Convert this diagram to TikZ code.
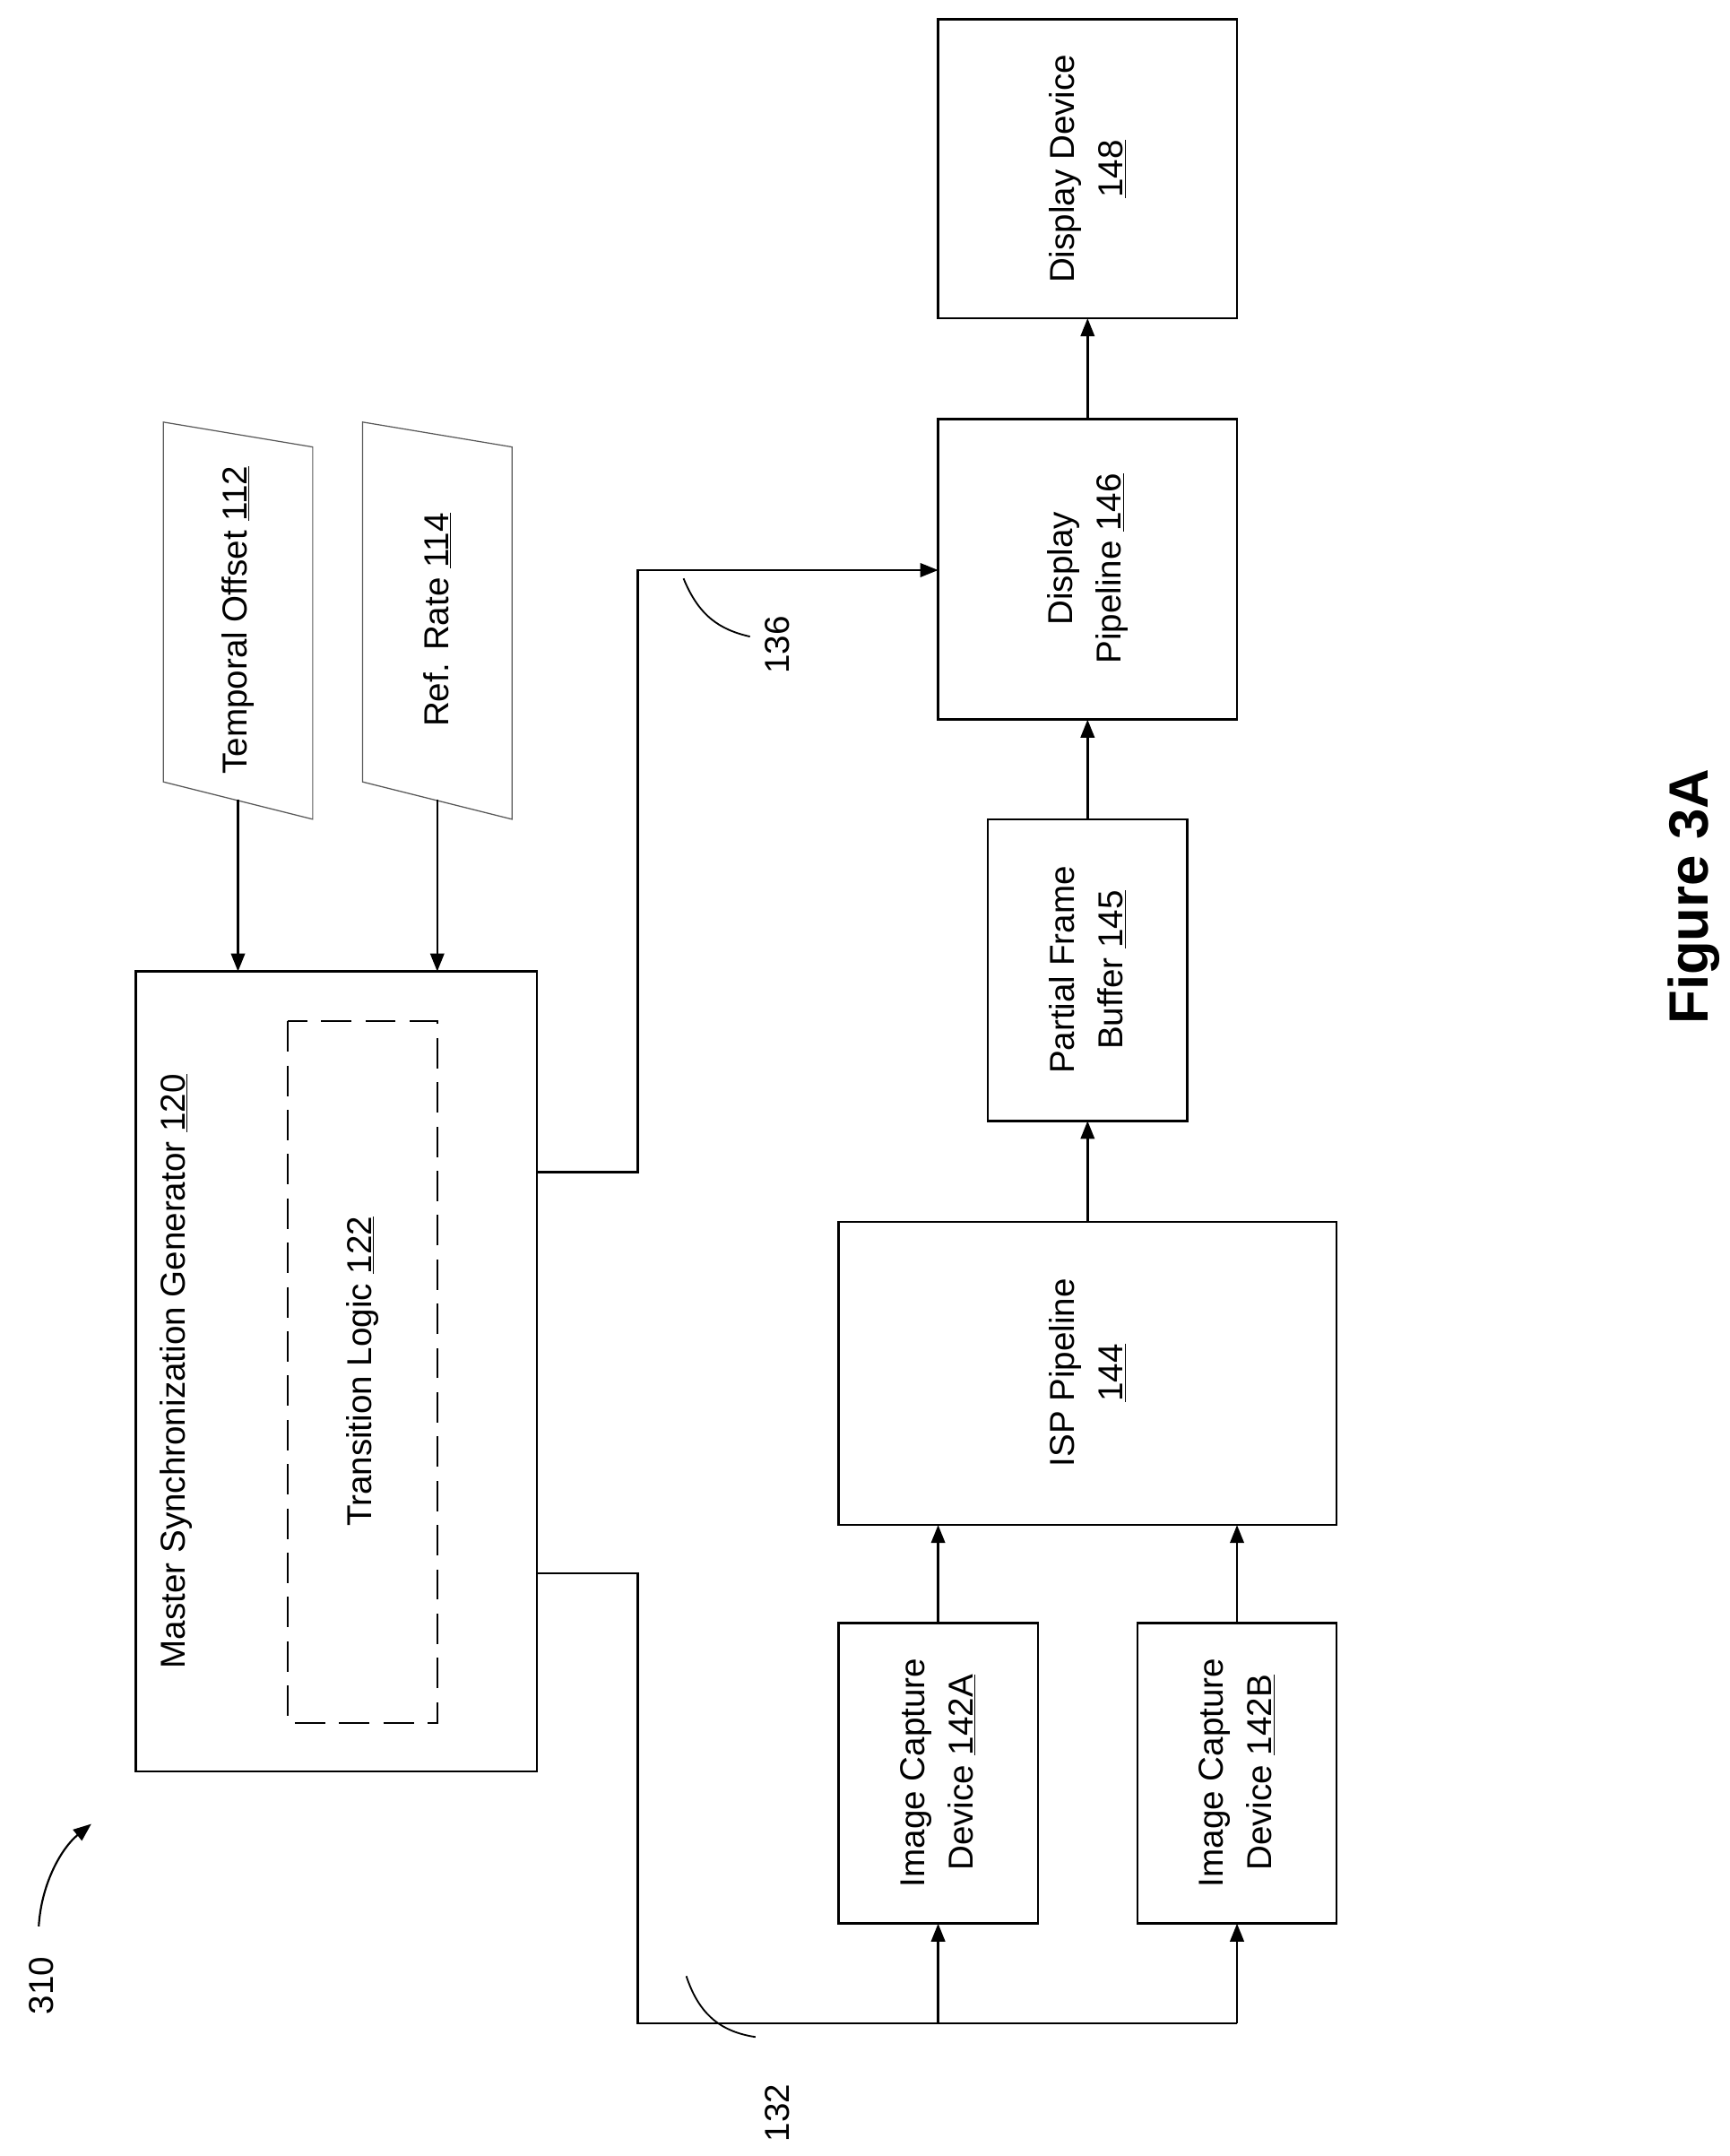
\documentclass[tikz,border=0pt]{standalone}
\usepackage{fontspec}
\setmainfont{Liberation Sans}
\usetikzlibrary{arrows.meta}
\begin{document}
\begin{tikzpicture}[x=1pt,y=-1pt,
  box/.style={draw,line width=1.6pt},
  lbl/.style={rotate=90,align=center,font=\fontsize{25}{35}\selectfont},
  ln/.style={line width=1.6pt},
  arr/.style={line width=1.6pt,-{Triangle[length=13pt,width=10pt]}}]
\useasboundingbox (0,0) rectangle (1250,1558);
% inputs
\draw[line width=0.8pt,gray!70!black] (118,305)--(226,323)--(226,592)--(118,565)--cycle;
\node[lbl] (to) at (172,448) {Temporal Offset \underline{112}};
\draw[line width=0.8pt,gray!70!black] (262,305)--(370,323)--(370,592)--(262,565)--cycle;
\node[lbl] (rr) at (316,448) {Ref. Rate \underline{114}};
\coordinate (toB) at (172,578); \coordinate (rrB) at (316,578);
% MSG
\draw[box] (98,702) rectangle (388,1280);
\node[lbl] (msg) at (127,991) {Master Synchronization Generator \underline{120}};
\draw[box,dash pattern=on 22pt off 10pt] (208,738) rectangle (316,1245);
\node[lbl] (tl) at (262,991) {Transition Logic \underline{122}};
\draw[arr] (toB)--(172,702);
\draw[arr] (rrB)--(316,702);
% blocks
\draw[box] (606,1173) rectangle (750,1390); \node[lbl] (ica) at (678,1281) {Image Capture\\Device \underline{142A}};
\draw[box] (822,1173) rectangle (966,1390); \node[lbl] (icb) at (894,1281) {Image Capture\\Device \underline{142B}};
\draw[box] (606,883) rectangle (966,1102); \node[lbl] (isp) at (786,992) {ISP Pipeline\\\underline{144}};
\draw[box] (714,592) rectangle (858,810); \node[lbl] (pfb) at (786,701) {Partial Frame\\Buffer \underline{145}};
\draw[box] (678,303) rectangle (894,520); \node[lbl] (dp) at (786,411) {Display\\Pipeline \underline{146}};
\draw[box] (678,14) rectangle (894,230); \node[lbl] (dd) at (786,122) {Display Device\\\underline{148}};
\draw[arr] (678,1173)--(678,1102);
\draw[arr] (894,1173)--(894,1102);
\draw[arr] (786,883)--(786,810);
\draw[arr] (786,592)--(786,520);
\draw[arr] (786,303)--(786,230);
% sync lines
\draw[arr] (388,847)--(461,847)--(461,412)--(678,412);
\draw[ln] (388,1137)--(461,1137)--(461,1462)--(894,1462);
\draw[arr] (678,1462)--(678,1390);
\draw[arr] (894,1462)--(894,1390);
\draw[line width=1.2pt] (494,418) .. controls (505,445) and (520,455) .. (542,460);
\node[lbl] (l136) at (562,466) {136};
\draw[line width=1.2pt] (496,1428) .. controls (505,1455) and (520,1468) .. (546,1472);
\node[lbl] (l132) at (562,1527) {132};
\node[lbl] (l310) at (30,1435) {310};
\draw[line width=1.4pt,-{Triangle[length=13pt,width=10pt]}] (28,1392) .. controls (30,1360) and (45,1335) .. (66,1318);
\node[rotate=90,font=\fontsize{40}{48}\selectfont\bfseries] (fig) at (1224,648) {Figure 3A};
\end{tikzpicture}
\end{document}
